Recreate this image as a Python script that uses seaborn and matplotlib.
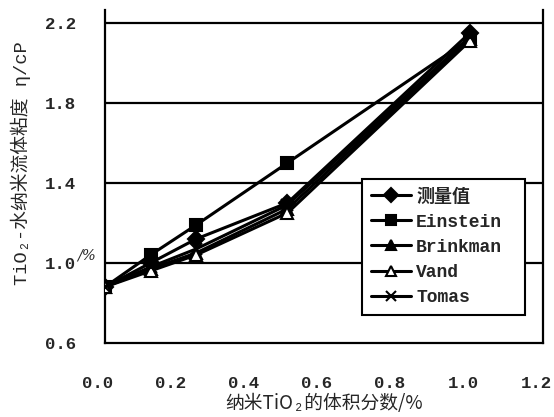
import matplotlib
matplotlib.use("Agg")
import matplotlib.pyplot as plt
import matplotlib.transforms as mtransforms
import seaborn as sns
import pandas as pd

# volume fraction of nano-TiO2 (%)
phi = [0.0, 0.125, 0.25, 0.5, 1.0]

# viscosity (cP) for measured values and model predictions
measured = [0.88, 1.04, 1.19, 1.50, 2.12]
einstein = [0.88, 1.00, 1.12, 1.30, 2.15]
brinkman = [0.88, 0.97, 1.05, 1.27, 2.12]
vand = [0.88, 0.96, 1.04, 1.25, 2.11]
tomas = [0.88, 0.98, 1.07, 1.29, 2.13]

series_names = ["测量值", "Einstein", "Brinkman", "Vand", "Tomas"]
series_values = [measured, einstein, brinkman, vand, tomas]
series_markers = ["s", "D", "^", "^", "x"]
series_fill = ["black", "black", "black", "white", "black"]
legend_markers = ["D", "s", "^", "^", "x"]

y_ticks = [0.6, 1.0, 1.4, 1.8, 2.2]
x_ticks = [0.0, 0.2, 0.4, 0.6, 0.8, 1.0, 1.2]

sns.set_style("white")
plt.rcParams["font.family"] = ["Liberation Mono", "Noto Sans CJK SC"]
plt.rcParams["font.weight"] = "bold"

fig = plt.figure(figsize=(5.54, 4.17), dpi=100)
ax = fig.add_axes([0.1895, 0.1775, 0.7905, 0.799])

rows = []
for name, vals in zip(series_names, series_values):
    for x, y in zip(phi, vals):
        rows.append({"phi": x, "eta": y, "series": name})
df = pd.DataFrame(rows)

for name, mk, fc in zip(series_names, series_markers, series_fill):
    sub = df[df["series"] == name]
    sns.lineplot(data=sub, x="phi", y="eta", ax=ax, color="black",
                 linewidth=2.2, marker=mk, markersize=8 if mk != "x" else 9,
                 markerfacecolor=fc, markeredgecolor="black",
                 markeredgewidth=1.5, legend=False, zorder=3)

ax.set_xlim(0, 1.2)
ax.set_ylim(0.6, 2.265)
ax.set_yticks(y_ticks)
ax.set_yticklabels([f"{v:.1f}" for v in y_ticks])
ax.set_xticks(x_ticks)
ax.set_xticklabels([f"{v:.1f}" for v in x_ticks])
ax.tick_params(axis="y", length=0, pad=21, labelsize=12.5)
ax.tick_params(axis="x", direction="in", length=5, width=1.5, pad=24,
               labelsize=12.5, color="black")
shift = mtransforms.ScaledTranslation(-7 / 100, 0, fig.dpi_scale_trans)
for lbl in ax.get_xticklabels():
    lbl.set_transform(lbl.get_transform() + shift)
for lbl in ax.get_xticklabels() + ax.get_yticklabels():
    lbl.set_fontweight("bold")

for yv in y_ticks[1:]:
    ax.axhline(yv, color="black", linewidth=1.6, zorder=1)

ax.spines["top"].set_visible(False)
for s in ["left", "right", "bottom"]:
    ax.spines[s].set_color("black")
    ax.spines[s].set_linewidth(1.6)

ax.set_xlabel("纳米TiO₂的体积分数/%", fontsize=13.5,
              family=["Noto Sans CJK SC", "Liberation Mono"])
ax.set_ylabel("TiO₂-水纳米流体粘度 η/cP", fontsize=13.5,
              family=["Liberation Mono", "Noto Sans CJK SC"])
ax.yaxis.set_label_coords(-0.17, 0.54)
ax.xaxis.set_label_coords(0.5, -0.15)

ax.text(-0.063, 1.035, "/%", transform=ax.get_yaxis_transform(),
        fontsize=10.5, style="italic", fontweight="normal",
        family="DejaVu Serif", ha="left", va="center")

handles = []
for name, mk, fc in zip(series_names, legend_markers, series_fill):
    h, = ax.plot([], [], color="black", linewidth=2.2, marker=mk,
                 markersize=7, markerfacecolor=fc, markeredgecolor="black",
                 markeredgewidth=1.5, label=name)
    handles.append(h)
leg = ax.legend(handles=handles, loc="lower left",
                bbox_to_anchor=(0.587, 0.084, 0.372, 0.451),
                mode="expand", frameon=True, fancybox=False,
                edgecolor="black", framealpha=1, fontsize=13,
                handlelength=2.2, handletextpad=0.3, borderpad=0.5,
                borderaxespad=0, labelspacing=0.45)
leg.get_frame().set_linewidth(1.5)
for t in leg.get_texts():
    t.set_fontweight("bold")

fig.savefig("out.png", dpi=100)
